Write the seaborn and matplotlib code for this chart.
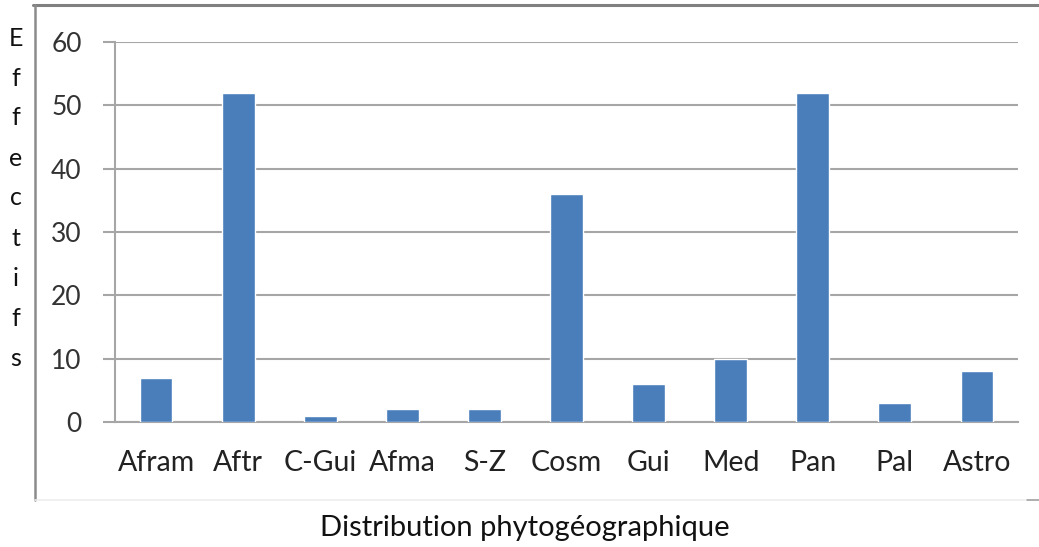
"""
    Bar chart of the phytogeographic distribution (Effectifs per type),
    redrawn with seaborn in the style of an old Excel chart.
"""

import numpy as np
import pandas as pd
import seaborn as sns
from matplotlib import pyplot as plt
from matplotlib.lines import Line2D


categories = ['Afram', 'Aftr', 'C-Gui', 'Afma', 'S-Z', 'Cosm', 'Gui', 'Med', 'Pan', 'Pal', 'Astro']
effectifs = [7, 52, 1, 2, 2, 36, 6, 10, 52, 3, 8]
y_ticks = [0, 10, 20, 30, 40, 50, 60]
y_label = 'Effectifs'
x_label = 'Distribution phytogéographique'


def makeplot():
    sns.set_style("white")
    plt.rcParams['font.family'] = ['Lato', 'DejaVu Sans']

    W, H = 1039, 547
    fig = plt.figure(figsize=(W / 100, H / 100), dpi=100)
    ax = fig.add_axes([115 / W, (H - 422) / H, (1018 - 115) / W, (422 - 42) / H])

    df = pd.DataFrame({'cat': categories, 'val': effectifs})
    sns.barplot(data=df, x='cat', y='val', color='#4A7EBB', width=0.4,
                saturation=1, ax=ax, zorder=3)

    grid_col = '#A6A6A6'
    ax.set_ylim(0, 60)
    ax.set_xlim(-0.5, len(categories) - 0.5)
    ax.set_yticks(y_ticks)
    ax.set_yticklabels([str(t) for t in y_ticks], fontsize=19, color='#333333')
    ax.yaxis.grid(True, color=grid_col, linewidth=1.5, zorder=0)
    ax.set_axisbelow(True)

    # x ticks at category boundaries, labels at centres
    ax.set_xticks(np.arange(len(categories)))
    ax.set_xticklabels(categories, fontsize=20.5, color='#222222')
    ax.set_xticks(np.arange(len(categories) + 1) - 0.5, minor=True)
    ax.tick_params(axis='x', which='major', length=0, pad=20)
    ax.tick_params(axis='x', which='minor', length=9, width=1.5, color=grid_col, direction='out')
    ax.tick_params(axis='y', which='major', length=9, width=1.5, color=grid_col,
                   direction='out', pad=15, left=True)

    for s in ['top', 'right']:
        ax.spines[s].set_visible(False)
    for s in ['left', 'bottom']:
        ax.spines[s].set_color(grid_col)
        ax.spines[s].set_linewidth(1.5)
    ax.set_xlabel('')
    ax.set_ylabel('')

    # vertical stacked letters for the y label
    for i, ch in enumerate(y_label):
        fig.text(16 / W, 1 - (38 + i * 40) / H, ch, fontsize=18, color='#111111',
                 ha='center', va='center')

    fig.text(525 / W, 1 - 528 / H, x_label, fontsize=21, color='#111111',
             ha='center', va='center')

    # outer chart frame
    def px(x, y):
        return x / W, 1 - y / H
    fig.add_artist(Line2D(*zip(px(33, 5), px(1039, 5)), color='#808080', linewidth=2.2))
    fig.add_artist(Line2D(*zip(px(35, 5), px(35, 500)), color='#8C8C8C', linewidth=1.8))
    fig.add_artist(Line2D(*zip(px(35, 500), px(1025, 500)), color='#EDEDED', linewidth=1.2))
    fig.add_artist(Line2D(*zip(px(1027, 500), px(1039, 500)), color='#A0A0A0', linewidth=1.2))

    plt.savefig('out.png', dpi=100)


def main():
    makeplot()


if __name__ == "__main__":
    main()
